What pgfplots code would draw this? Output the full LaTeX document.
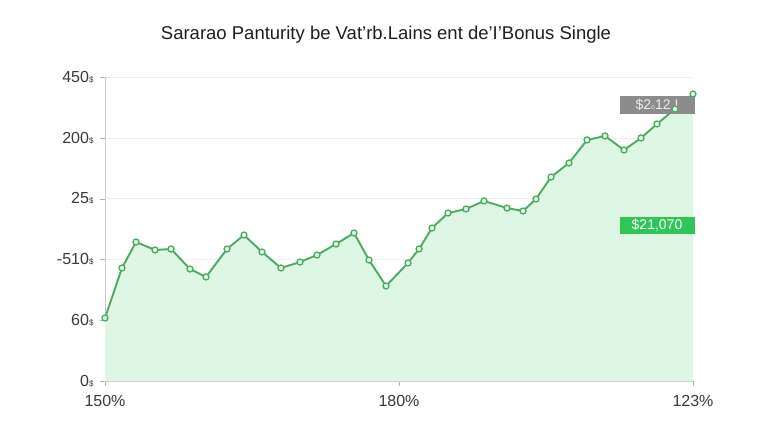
\documentclass[border=0pt]{standalone}
\usepackage{fontspec}
\setmainfont{Liberation Sans}
\usepackage{pgfplots}
\pgfplotsset{compat=1.18}

\definecolor{linegreen}{HTML}{4EAA62}
\definecolor{areagreen}{HTML}{DDF7E4}
\definecolor{boxgray}{HTML}{8C8C8C}
\definecolor{boxgreen}{HTML}{2EC655}
\definecolor{ticktext}{HTML}{3A3A3A}

\begin{document}
\begin{tikzpicture}
\useasboundingbox (0pt,0pt) rectangle (768pt,439pt);
\fill[white] (0pt,0pt) rectangle (768pt,439pt);
\node[font=\fontsize{18.5}{20}\selectfont, text=black!88] at (386pt,404pt)
  {Sararao Panturity be Vat'rb.Lains ent de'I'Bonus Single};

\begin{axis}[
    at={(105pt,58pt)}, anchor=south west,
    scale only axis, width=588pt, height=304pt,
    xmin=105, xmax=693, ymin=0, ymax=5,
    xtick={105,399,693}, xticklabels={150\%,180\%,123\%},
    ytick={0,1,2,3,4,5},
    yticklabels={0{\footnotesize\$},60{\footnotesize\$},-510{\footnotesize\$},25{\footnotesize\$},200{\footnotesize\$},450{\footnotesize\$}},
    axis x line*=bottom, axis y line*=left,
    axis line style={draw=black!20, -},
    ymajorgrids, grid style={black!6},
    tick style={black!30}, major tick length=5pt, tick align=outside,
    ticklabel style={font=\fontsize{16}{18}\selectfont, text=ticktext},
    xticklabel style={yshift=-6pt},
    yticklabel style={xshift=-3pt},
    clip=false,
]
\addplot[draw=none, fill=areagreen] coordinates {
 (105,1.036) (122,1.859) (136,2.286) (155,2.155) (171,2.171) (190,1.842)
 (206,1.711) (227,2.171) (244,2.401) (262,2.122) (281,1.859) (300,1.957)
 (317,2.072) (336,2.253) (354,2.434) (369,1.990) (386,1.563) (408,1.941)
 (419,2.171) (432,2.516) (448,2.763) (466,2.829) (484,2.961) (507,2.845)
 (523,2.796) (536,2.993) (551,3.355) (569,3.586) (587,3.964) (605,4.030)
 (624,3.799) (641,3.997) (657,4.227) (675,4.474) (693,4.720)
} \closedcycle;

\addplot[linegreen, line width=1.9pt, mark=*, mark size=3pt,
         mark options={fill=areagreen, draw=linegreen, line width=1.3pt}] coordinates {
 (105,1.036) (122,1.859) (136,2.286) (155,2.155) (171,2.171) (190,1.842)
 (206,1.711) (227,2.171) (244,2.401) (262,2.122) (281,1.859) (300,1.957)
 (317,2.072) (336,2.253) (354,2.434) (369,1.990) (386,1.563) (408,1.941)
 (419,2.171) (432,2.516) (448,2.763) (466,2.829) (484,2.961) (507,2.845)
 (523,2.796) (536,2.993) (551,3.355) (569,3.586) (587,3.964) (605,4.030)
 (624,3.799) (641,3.997) (657,4.227) (675,4.474) (693,4.720)
};

\node[fill=boxgray, text=white!85!gray, minimum width=75pt, minimum height=18pt,
      inner sep=0pt, font=\fontsize{14}{16}\selectfont]
  at (axis cs:657,4.54) {\$2{\scriptsize o}12 !};
\node[fill=boxgreen, text=white, minimum width=75pt, minimum height=17pt,
      inner sep=0pt, font=\fontsize{14}{16}\selectfont]
  at (axis cs:657,2.56) {\$21,070};
\end{axis}
\end{tikzpicture}
\end{document}
